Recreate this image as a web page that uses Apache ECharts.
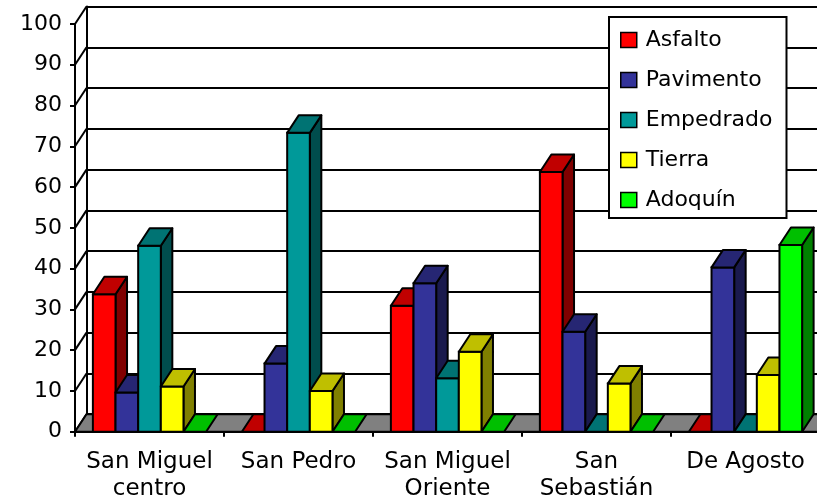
<!DOCTYPE html>
<html>
<head>
<meta charset="utf-8">
<script src="https://cdn.jsdelivr.net/npm/echarts@6/dist/echarts.min.js"></script>
<style>
  html, body { margin: 0; padding: 0; background: #fff; }
  #chart { width: 817px; height: 500px; }
</style>
</head>
<body>
<div id="chart"></div>
<script>
// Neighbourhood names (x categories)
const categories = ['San Miguel\ncentro', 'San Pedro', 'San Miguel\nOriente', 'San\nSebastián', 'De Agosto'];
const seriesNames = ['Asfalto', 'Pavimento', 'Empedrado', 'Tierra', 'Adoquín'];

// Share of each street surface per neighbourhood (%)
const asfalto   = [33.7, 0,    30.9, 63.7, 0];
const pavimento = [9.6,  16.7, 36.4, 24.5, 40.3];
const empedrado = [45.6, 73.3, 13.1, 0,    0];
const tierra    = [11.1, 10,   19.6, 11.8, 13.9];
const adoquin   = [0,    0,    0,    0,    45.8];

// Value axis ticks
const yTicks = [0, 10, 20, 30, 40, 50, 60, 70, 80, 90, 100];

const seriesValues = [asfalto, pavimento, empedrado, tierra, adoquin];

// front / top / side shading of each 3D column
const faceColors = [
  { front: '#FF0000', top: '#C00000', side: '#800000' },
  { front: '#333399', top: '#262673', side: '#1A1A4D' },
  { front: '#009999', top: '#007373', side: '#004D4D' },
  { front: '#FFFF00', top: '#BFBF00', side: '#808000' },
  { front: '#00FF00', top: '#00BF00', side: '#008000' }
];

const FONT = 'DejaVu Sans';
const DX = 11.5;        // depth offset, x
const DY = 17.5;        // depth offset, y
const BAR_RATIO = 0.152; // column width relative to category width
const EDGE = '#000';

const front = { left: 75, top: 24, width: 745, height: 407.7 };
const back = { left: front.left + DX, top: front.top - DY, width: front.width, height: front.height };

function columnSeries(s) {
  const col = faceColors[s];
  return {
    name: seriesNames[s],
    type: 'custom',
    xAxisIndex: 0, yAxisIndex: 0,
    z: 3,
    itemStyle: { color: col.front },
    encode: { x: 0, y: 1 },
    data: seriesValues[s].map((v, i) => [i, v]),
    renderItem: function (params, api) {
      const i = api.value(0), v = api.value(1);
      const base = api.coord([i, 0]);
      const top = api.coord([i, v]);
      const bw = api.size([1, 0])[0] * BAR_RATIO;
      const x0 = base[0] - bw * seriesNames.length / 2 + s * bw;
      const x1 = x0 + bw;
      const yb = base[1], yt = top[1];
      const lw = 2;
      const children = [];
      if (yb - yt > 0.5) {
        children.push({
          type: 'polygon',
          shape: { points: [[x1, yb], [x1 + DX, yb - DY], [x1 + DX, yt - DY], [x1, yt]] },
          style: { fill: col.side, stroke: EDGE, lineWidth: lw, lineJoin: 'round' }
        });
        children.push({
          type: 'rect',
          shape: { x: x0, y: yt, width: bw, height: yb - yt },
          style: { fill: col.front, stroke: EDGE, lineWidth: lw }
        });
      }
      children.push({
        type: 'polygon',
        shape: { points: [[x0, yt], [x1, yt], [x1 + DX, yt - DY], [x0 + DX, yt - DY]] },
        style: { fill: col.top, stroke: EDGE, lineWidth: lw, lineJoin: 'round' }
      });
      return { type: 'group', children: children };
    }
  };
}

const chart = echarts.init(document.getElementById('chart'), null, { renderer: 'canvas' });

const option = {
  animation: false,
  backgroundColor: '#fff',
  textStyle: { fontFamily: FONT },
  grid: [
    { left: front.left, top: front.top, width: front.width, height: front.height, containLabel: false, outerBoundsMode: 'none' },
    { left: back.left, top: back.top, width: back.width, height: back.height, containLabel: false, outerBoundsMode: 'none' }
  ],
  xAxis: [
    {
      gridIndex: 0, type: 'category', data: categories,
      axisLine: { lineStyle: { color: EDGE, width: 2 } },
      axisTick: { show: true, length: 5, lineStyle: { color: EDGE, width: 2 } },
      axisLabel: { interval: 0, fontSize: 23, lineHeight: 27, margin: 17, color: '#000', fontFamily: FONT }
    },
    { gridIndex: 1, type: 'category', data: categories, show: false }
  ],
  yAxis: [
    {
      gridIndex: 0, type: 'value', min: 0, max: 100, interval: 10,
      axisLine: { show: true, lineStyle: { color: EDGE, width: 2 } },
      axisTick: { show: true, length: 5, lineStyle: { color: EDGE, width: 2 } },
      splitLine: { show: false },
      axisLabel: { fontSize: 22, margin: 13, color: '#000', fontFamily: FONT }
    },
    {
      gridIndex: 1, type: 'value', min: 0, max: 100, interval: 10,
      axisLine: { show: true, lineStyle: { color: EDGE, width: 2 } },
      axisTick: { show: false },
      axisLabel: { show: false },
      splitLine: { show: true, lineStyle: { color: EDGE, width: 2 } }
    }
  ],
  legend: {
    orient: 'vertical',
    left: 609, top: 17,
    selectedMode: false,
    data: seriesNames.map((n, k) => ({
      name: n, icon: 'rect',
      itemStyle: { color: faceColors[k].front, borderColor: EDGE, borderWidth: 1.5 }
    })),
    itemWidth: 16, itemHeight: 15, itemGap: 18,
    textStyle: { fontSize: 22, lineHeight: 22, color: '#000', fontFamily: FONT, padding: [0, 0, 0, 4] },
    backgroundColor: '#fff', borderColor: EDGE, borderWidth: 2,
    padding: [12, 14, 7, 11]
  },
  series: [
    // side wall: connects each front tick to the back wall
    {
      type: 'custom', xAxisIndex: 0, yAxisIndex: 0, z: 1, silent: true,
      data: yTicks.map(v => [0, v]),
      encode: { x: 0, y: 1 },
      renderItem: function (params, api) {
        const cs = params.coordSys;
        const y = api.coord([0, api.value(1)])[1];
        return {
          type: 'line',
          shape: { x1: cs.x, y1: y, x2: cs.x + DX, y2: y - DY },
          style: { stroke: EDGE, lineWidth: 2 }
        };
      }
    },
    // grey floor
    {
      type: 'custom', xAxisIndex: 0, yAxisIndex: 0, z: 2, silent: true,
      data: [[0, 0]],
      encode: { x: 0, y: 1 },
      renderItem: function (params, api) {
        const cs = params.coordSys;
        const y0 = api.coord([0, 0])[1];
        const xa = cs.x, xb = cs.x + cs.width;
        return {
          type: 'polygon',
          shape: { points: [[xa, y0], [xb, y0], [xb + DX, y0 - DY], [xa + DX, y0 - DY]] },
          style: { fill: '#808080', stroke: EDGE, lineWidth: 2 }
        };
      }
    }
  ].concat(seriesNames.map((n, s) => columnSeries(s)))
};

chart.setOption(option);
</script>
</body>
</html>
